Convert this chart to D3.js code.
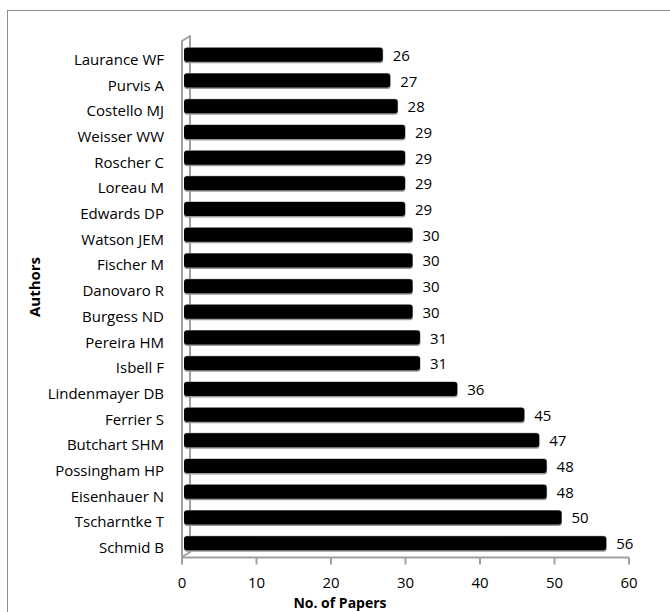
<!DOCTYPE html>
<html>
<head>
<meta charset="utf-8">
<script src="https://cdn.jsdelivr.net/npm/d3@7"></script>
<style>
  html, body { margin: 0; padding: 0; background: #fff; }
  svg { display: block; font-family: "Open Sans", Lato, sans-serif; }
</style>
</head>
<body>
<svg id="chart" width="670" height="612"></svg>
<script>
// Authors, listed top to bottom
const authors = [
  "Laurance WF", "Purvis A", "Costello MJ", "Weisser WW", "Roscher C",
  "Loreau M", "Edwards DP", "Watson JEM", "Fischer M", "Danovaro R",
  "Burgess ND", "Pereira HM", "Isbell F", "Lindenmayer DB", "Ferrier S",
  "Butchart SHM", "Possingham HP", "Eisenhauer N", "Tscharntke T", "Schmid B"
];
// Number of papers per author
const papers = [26, 27, 28, 29, 29, 29, 29, 30, 30, 30, 30, 31, 31, 36, 45, 47, 48, 48, 50, 56];
// Value axis ticks
const xTicks = [0, 10, 20, 30, 40, 50, 60];

const svg = d3.select("#chart");

// outer frame
svg.append("rect")
  .attr("x", 7.5).attr("y", 10.5)
  .attr("width", 680).attr("height", 620)
  .attr("fill", "none").attr("stroke", "#8c8c8c").attr("stroke-width", 1);

const x = d3.scaleLinear().domain([0, 60]).range([182, 629]);
const y = d3.scaleBand().domain(authors).range([47, 561]);

const depthX = 8, depthY = -5; // 3D wall offset
const gridGray = "#a0a0a0";

// side wall (3D)
const wall = [
  [x(0), 41], [x(0) + depthX, 41 + depthY],
  [x(0) + depthX, 557 + depthY], [x(0), 557]
];
svg.append("polygon")
  .attr("points", wall.map(p => p.join(",")).join(" "))
  .attr("fill", "#fff").attr("stroke", gridGray).attr("stroke-width", 2)
  .attr("stroke-linejoin", "round");

// value axis
const xAxis = svg.append("g").attr("transform", "translate(0,557.5)");
xAxis.append("line")
  .attr("x1", x(0)).attr("x2", x(60))
  .attr("stroke", gridGray).attr("stroke-width", 2);
xAxis.selectAll("line.tick").data(xTicks).join("line")
  .attr("class", "tick")
  .attr("x1", d => x(d)).attr("x2", d => x(d))
  .attr("y1", 0).attr("y2", 7)
  .attr("stroke", gridGray).attr("stroke-width", 2);
xAxis.selectAll("text").data(xTicks).join("text")
  .attr("x", d => x(d)).attr("y", 30)
  .attr("text-anchor", "middle")
  .attr("font-size", 15).attr("fill", "#000")
  .text(d => d);

// bars
const barH = 14;
const bars = svg.append("g");
authors.forEach((a, i) => {
  const cy = y(a) + y.bandwidth() / 2 - 5;
  const x0 = x(0) + 2, x1 = x(papers[i]) + 7;
  bars.append("rect")
    .attr("x", x0).attr("y", cy - barH / 2 - 0.5)
    .attr("width", x1 - x0 + 0.5).attr("height", barH + 2)
    .attr("rx", 3)
    .attr("fill", "#9a9a9a");
  bars.append("rect")
    .attr("x", x0).attr("y", cy - barH / 2)
    .attr("width", x1 - x0).attr("height", barH)
    .attr("rx", 3)
    .attr("fill", "#000");
  bars.append("text")
    .attr("x", x1 + 10).attr("y", cy + 6)
    .attr("font-size", 15).attr("fill", "#000")
    .text(papers[i]);
});

// category labels
svg.append("g").selectAll("text").data(authors).join("text")
  .attr("x", 164)
  .attr("y", d => y(d) + y.bandwidth() / 2 + 5)
  .attr("text-anchor", "end")
  .attr("font-size", 15).attr("fill", "#000")
  .text(d => d);

// axis titles
svg.append("text")
  .attr("x", 340).attr("y", 608)
  .attr("text-anchor", "middle")
  .attr("font-size", 14).attr("font-weight", "bold")
  .text("No. of Papers");

svg.append("text")
  .attr("transform", "translate(40,287) rotate(-90)")
  .attr("text-anchor", "middle")
  .attr("font-size", 15).attr("font-weight", "bold")
  .text("Authors");
</script>
</body>
</html>
